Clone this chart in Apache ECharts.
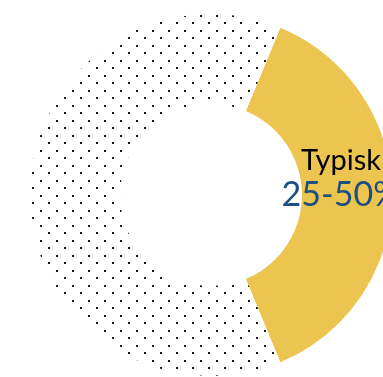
<!DOCTYPE html>
<html>
<head>
<meta charset="utf-8">
<script src="https://cdn.jsdelivr.net/npm/echarts@6/dist/echarts.min.js"></script>
<style>
  html, body { margin: 0; padding: 0; background: #ffffff; }
  #chart { width: 383px; height: 377px; }
</style>
</head>
<body>
<div id="chart"></div>
<script>
// Share of the ring: typical range vs. the rest
const categories = ['Typisk', 'Øvrig'];
const shares = [37.5, 62.5];
const rangeLabels = ['25-50%', ''];

// Sparse staggered (diamond) dot fill for the remainder of the ring
function dotTile() {
  const c = document.createElement('canvas');
  c.width = 16;
  c.height = 15;
  const g = c.getContext('2d');
  g.fillStyle = '#ffffff';
  g.fillRect(0, 0, 16, 15);
  g.fillStyle = '#1a1a1a';
  g.fillRect(0, 7, 2, 2);
  g.fillRect(8, 0, 2, 2);
  return c;
}

const colors = ['#ECC550', { image: dotTile(), repeat: 'repeat' }];

const chart = echarts.init(document.getElementById('chart'), null, { renderer: 'canvas' });
chart.setOption({
  animation: false,
  series: [{
    type: 'pie',
    center: [211, 195],
    radius: [91, 181],
    startAngle: 67.5,
    clockwise: true,
    silent: true,
    labelLine: { show: false },
    data: categories.map((name, i) => ({
      name: name,
      value: shares[i],
      itemStyle: { color: colors[i] },
      label: {
        show: i === 0,
        position: 'inside',
        offset: [-9, -15],
        formatter: () => '{a|' + name + '}\n{b|' + rangeLabels[i] + '}',
        rich: {
          a: { fontFamily: 'Lato', fontSize: 29, color: '#000000', lineHeight: 31, align: 'center' },
          b: { fontFamily: 'Lato', fontSize: 34, color: '#1B4F82', lineHeight: 39, align: 'center' }
        }
      }
    }))
  }]
});
</script>
</body>
</html>
